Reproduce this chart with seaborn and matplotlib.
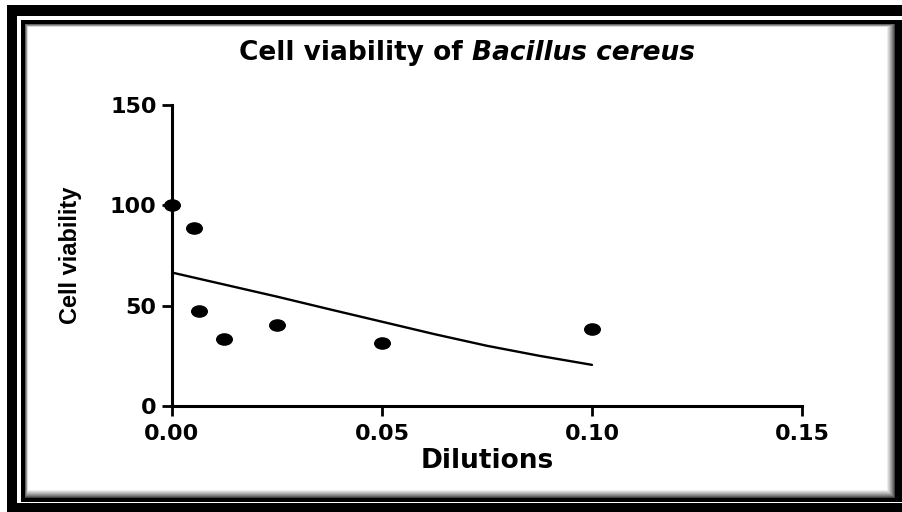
import numpy as np
import pandas as pd
import matplotlib
matplotlib.use("Agg")
import matplotlib.pyplot as plt
import seaborn as sns
from matplotlib import font_manager
from matplotlib.patches import Rectangle
from matplotlib.path import Path
from matplotlib.transforms import Affine2D

# Data
dilution = [0.0, 0.0052, 0.0065, 0.0125, 0.025, 0.05, 0.1]
viability = [100, 88.5, 47.5, 33.5, 40.5, 31.5, 38.5]

# fitted curve (as drawn in the reference)
fit_x = [0.0, 0.0125, 0.025, 0.0375, 0.05, 0.0625, 0.075, 0.0875, 0.1]
fit_y = [66.5, 60.5, 54.5, 48.2, 42.0, 35.8, 30.0, 25.0, 20.5]

x_ticks = [0.00, 0.05, 0.10, 0.15]
x_ticklabels = ["0.00", "0.05", "0.10", "0.15"]
y_ticks = [0, 50, 100, 150]

sns.set_style("ticks")
plt.rcParams["font.family"] = ["DejaVu Sans"]
plt.rcParams["font.weight"] = "bold"
for k in ["text.color", "axes.labelcolor", "xtick.color", "ytick.color", "axes.edgecolor"]:
    plt.rcParams[k] = "black"

installed = {f.name for f in font_manager.fontManager.ttflist}
narrow = "Liberation Sans Narrow" if "Liberation Sans Narrow" in installed else "Liberation Sans"
ylab_size = 20 if narrow == "Liberation Sans Narrow" else 17

W, H = 903, 512
fig = plt.figure(figsize=(W / 100, H / 100), dpi=100)

# --- picture frame (pixel coords, y from top) ---
bg = fig.add_axes([0, 0, 1, 1], zorder=0)
bg.set_xlim(0, W)
bg.set_ylim(H, 0)
bg.axis("off")

def box(x0, y0, x1, y1, color):
    bg.add_patch(Rectangle((x0, y0), x1 - x0, y1 - y0, facecolor=color, edgecolor="none"))

box(7, 5, W + 5, H + 5, "black")
box(17, 16, W + 5, 503, "white")
box(21, 20, W + 5, 502, "black")
# inner shadow gradient
for i in range(9):
    g = 0.25 + 0.75 * (i / 8) ** 0.8
    box(25 + i * 0.4, 24 + i * 0.4, 895 - i, 498 - i, (g, g, g))
box(29, 28, 886, 489, "white")

# --- main plot ---
ax = fig.add_axes([172 / W, (H - 406) / H, 630 / W, 301 / H], zorder=2)
ax.patch.set_alpha(0)

df = pd.DataFrame({"dilution": dilution, "viability": viability})
fit = pd.DataFrame({"x": fit_x, "y": fit_y})

ellipse = Path(Affine2D().scale(1.35, 1.0).transform_path(Path.unit_circle()).vertices,
               Path.unit_circle().codes)

sns.lineplot(data=fit, x="x", y="y", ax=ax, color="black", linewidth=1.7,
             sort=False, estimator=None)
sns.scatterplot(data=df, x="dilution", y="viability", ax=ax, color="black",
                marker=ellipse, s=150, linewidth=0, clip_on=False, zorder=5)

ax.set_xlim(0, 0.15)
ax.set_ylim(0, 150)
ax.set_xticks(x_ticks)
ax.set_xticklabels(x_ticklabels)
ax.set_yticks(y_ticks)
sns.despine(ax=ax)
for s in ["left", "bottom"]:
    ax.spines[s].set_linewidth(2.2)
ax.tick_params(axis="both", width=2.0, length=7, labelsize=16, pad=4)
ax.tick_params(axis="x", pad=6)
for lab in ax.get_xticklabels() + ax.get_yticklabels():
    lab.set_fontweight("bold")

ax.set_xlabel("Dilutions", fontsize=19, fontweight="bold", labelpad=3)
ax.set_ylabel("Cell viability", fontsize=ylab_size, fontweight="bold", labelpad=20,
              family=[narrow, "DejaVu Sans"])

# title: regular bold + italic species name
renderer = fig.canvas.get_renderer()
t1 = fig.text(0, 0, "Cell viability of ", fontsize=19, fontweight="bold")
t2 = fig.text(0, 0, "Bacillus cereus", fontsize=19, fontweight="bold", style="italic")
w1 = t1.get_window_extent(renderer).width
w2 = t2.get_window_extent(renderer).width
cx, base = 467, 60
x0 = cx - (w1 + w2) / 2
t1.set_position((x0 / W, (H - base) / H))
t2.set_position(((x0 + w1) / W, (H - base) / H))
t1.set_va("baseline")
t2.set_va("baseline")

fig.savefig("out.png", dpi=100)
